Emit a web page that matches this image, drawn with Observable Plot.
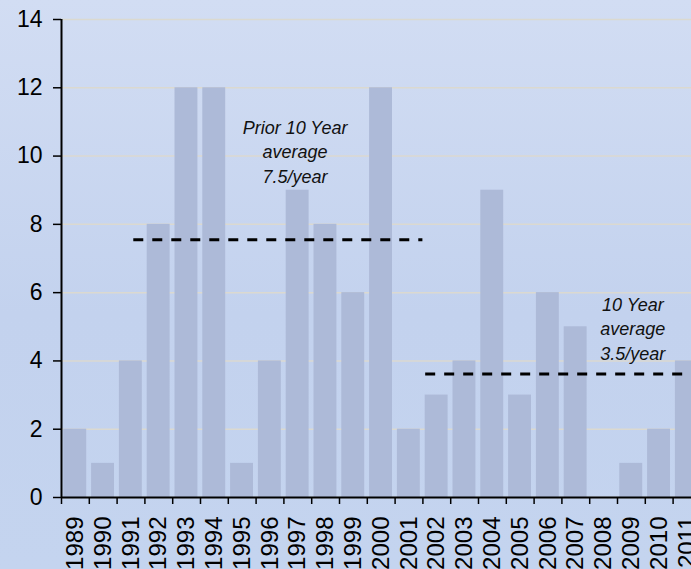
<!DOCTYPE html>
<html><head><meta charset="utf-8">
<script src="https://cdn.jsdelivr.net/npm/d3@7"></script>
<script src="https://cdn.jsdelivr.net/npm/@observablehq/plot@0.6"></script>
<style>
html,body{margin:0;padding:0;background:#c8d6f0;overflow:hidden}
</style></head><body><div id="chart"></div>
<script>
const years = [1989,1990,1991,1992,1993,1994,1995,1996,1997,1998,1999,2000,2001,2002,2003,2004,2005,2006,2007,2008,2009,2010,2011];
const counts = [2,1,4,8,12,12,1,4,9,8,6,12,2,3,4,9,3,6,5,0,1,2,4];
const yTicks = [0,2,4,6,8,10,12,14];
const avgFrom = [1991.1, 2001.6];
const avgTo = [2001.5, 2011.6];
const avgValue = [7.55, 3.62];
const noteText = ["Prior 10 Year\naverage\n7.5/year", "10 Year\naverage\n3.5/year"];
const noteX = [1996.9, 2009.05];
const noteY = [10.16, 4.98];

const data = years.map((year, i) => ({year, count: counts[i]}));
const avgs = avgValue.map((v, i) => ({from: avgFrom[i], to: avgTo[i], value: v}));
const notes = noteText.map((t, i) => ({text: t, x: noteX[i], y: noteY[i]}));
const bounds = years.map(y => y - 0.5);

const chart = Plot.plot({
  width: 691, height: 569,
  marginLeft: 61, marginRight: 0, marginTop: 19, marginBottom: 72,
  style: {
    fontFamily: "'Liberation Sans', Arial, sans-serif",
    background: "linear-gradient(to bottom, #d2ddf3 0%, #c3d2ee 55%, #c4d4ef 100%)",
    overflow: "hidden",
    color: "black"
  },
  x: {domain: [1988.5, 2011.5], range: [61, 700.4]},
  y: {domain: [0, 14], range: [497, 19]},
  marks: [
    Plot.gridY(yTicks, {stroke: "#dbd9d0", strokeOpacity: 1, strokeWidth: 1.5}),
    Plot.rectY(data, {x1: d => d.year - 0.5, x2: d => d.year + 0.5, y: "count", fill: "#adbad8", insetLeft: 2.3, insetRight: 2.6}),
    Plot.ruleY(avgs, {x1: "from", x2: "to", y: "value", stroke: "black", strokeWidth: 3, strokeDasharray: "10,9"}),
    Plot.text(notes, {x: "x", y: "y", text: "text", fontSize: 18, fontStyle: "italic", lineHeight: 1.35, fill: "#111"}),
    Plot.axisY(yTicks, {tickSize: 8, tickPadding: 11, fontSize: 23, strokeWidth: 1.5, label: null}),
    Plot.axisX(years, {tickSize: 0, tickPadding: 19, tickRotate: -90, fontSize: 24, label: null, tickFormat: d => String(d)}),
    Plot.axisX(bounds, {tickSize: 7, text: null, strokeWidth: 1.5, label: null}),
    Plot.ruleY([0], {strokeWidth: 2}),
    Plot.ruleX([1988.5], {y1: 0, y2: 14, strokeWidth: 2})
  ]
});
document.getElementById("chart").appendChild(chart);
</script>
</body></html>
